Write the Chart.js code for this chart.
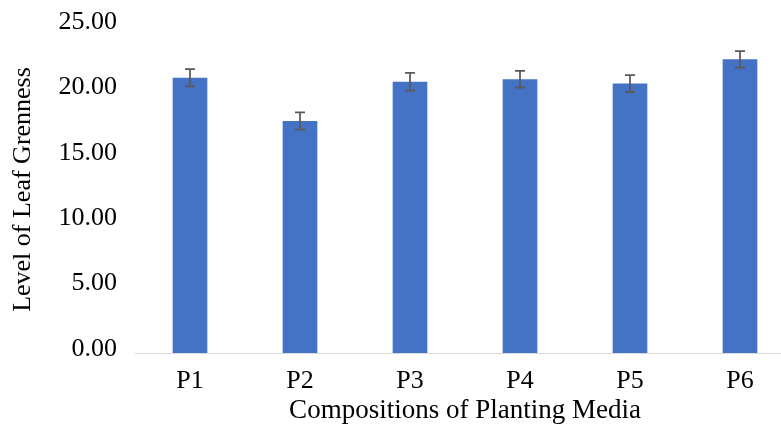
<!DOCTYPE html>
<html>
<head>
<meta charset="utf-8">
<script src="https://cdn.jsdelivr.net/npm/chart.js@4"></script>
<style>
    html, body { margin: 0; padding: 0; background: #fff; overflow: hidden; }
    #wrap { width: 800px; height: 433px; }
</style>
</head>
<body>
<div id="wrap"><canvas id="leafChart"></canvas></div>
<script>
// Data
const categories = ['P1', 'P2', 'P3', 'P4', 'P5', 'P6'];
const greenness = [21.04, 17.73, 20.73, 20.92, 20.61, 22.45];
const errors = [0.66, 0.66, 0.68, 0.64, 0.64, 0.63];
const yTicks = [0, 5, 10, 15, 20, 25];

const serif = 'Liberation Serif, Times New Roman, serif';

// Error bars drawn through the y scale
const errorBars = {
    id: 'errorBars',
    afterDatasetsDraw(chart) {
        const ctx = chart.ctx;
        const y = chart.scales.y;
        const meta = chart.getDatasetMeta(0);
        ctx.save();
        ctx.strokeStyle = '#595959';
        ctx.lineWidth = 1.75;
        meta.data.forEach((bar, i) => {
            const top = y.getPixelForValue(greenness[i] + errors[i]);
            const bot = y.getPixelForValue(greenness[i] - errors[i]);
            ctx.beginPath();
            ctx.moveTo(bar.x, top);
            ctx.lineTo(bar.x, bot);
            ctx.moveTo(bar.x - 5, top);
            ctx.lineTo(bar.x + 5, top);
            ctx.moveTo(bar.x - 5, bot);
            ctx.lineTo(bar.x + 5, bot);
            ctx.stroke();
        });
        ctx.restore();
    }
};

const ctx = document.getElementById('leafChart').getContext('2d');
new Chart(ctx, {
    type: 'bar',
    data: {
        labels: categories,
        datasets: [{
            data: greenness,
            backgroundColor: '#4472C4',
            categoryPercentage: 1,
            barPercentage: 0.315
        }]
    },
    options: {
        responsive: true,
        maintainAspectRatio: false,
        animation: false,
        layout: { padding: { top: 26, right: 5, bottom: 6, left: 0 } },
        plugins: {
            legend: { display: false },
            tooltip: { enabled: false }
        },
        scales: {
            x: {
                afterFit: s => { s.height = 74; s.paddingLeft = 0; s.paddingRight = 0; },
                grid: { display: false, drawTicks: false },
                border: { color: '#d9d9d9', width: 1 },
                ticks: { color: '#000', padding: 13, font: { family: serif, size: 26 } },
                title: {
                    display: true,
                    text: 'Compositions of Planting Media',
                    color: '#000',
                    padding: 0,
                    font: { family: serif, size: 27 }
                }
            },
            y: {
                min: 0,
                max: 25,
                afterFit: s => { s.width = 135; s.paddingTop = 0; s.paddingBottom = 0; },
                afterBuildTicks: s => { s.ticks = yTicks.map(v => ({ value: v })); },
                grid: { display: false, drawTicks: false },
                border: { display: false },
                ticks: {
                    color: '#000',
                    padding: 18,
                    labelOffset: -4,
                    font: { family: serif, size: 26 },
                    callback: v => v.toFixed(2)
                },
                title: {
                    display: true,
                    text: 'Level of Leaf Grenness',
                    color: '#000',
                    padding: 8,
                    font: { family: serif, size: 26 }
                }
            }
        }
    },
    plugins: [errorBars]
});
</script>
</body>
</html>
